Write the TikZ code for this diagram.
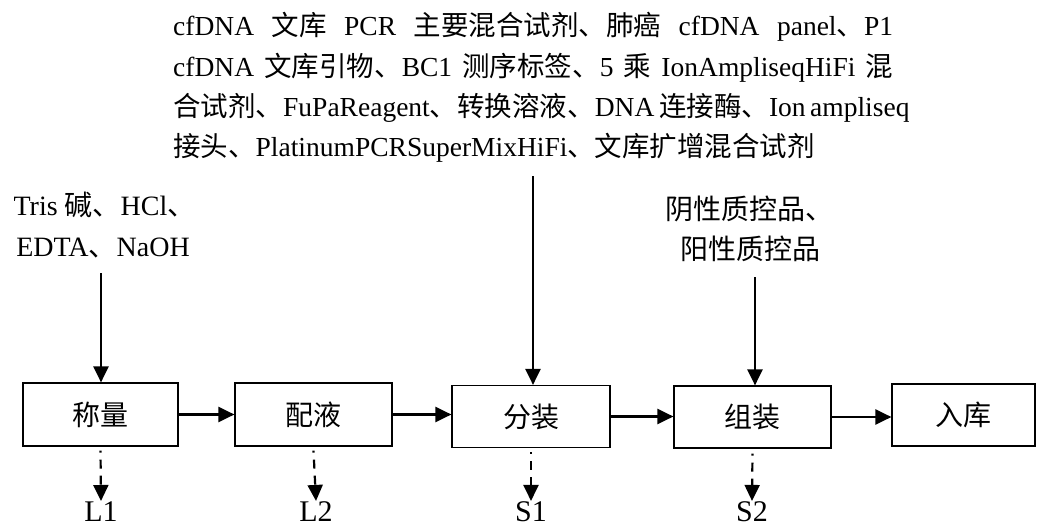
\documentclass[tikz,border=0pt]{standalone}
\usepackage{fontspec}
\setmainfont{Liberation Serif}
\newfontfamily\cjk{Noto Sans CJK SC}
\usetikzlibrary{arrows.meta}
\newcommand\zh[1]{{\cjk #1}}
\begin{document}
\begin{tikzpicture}[x=1pt,y=-1pt,
  box/.style={draw, line width=1.2pt, inner sep=0pt, font=\fontsize{28}{40}\selectfont},
  arr/.style={line width=2.2pt, -{Triangle[length=16pt,width=15pt]}},
  darr/.style={arr, dash pattern=on 9pt off 7pt, dash phase=7pt},
  txt/.style={inner sep=0pt, anchor=base, font=\fontsize{28}{40}\selectfont},
  topline/.style={inner sep=0pt, anchor=base west, font=\fontsize{27.5}{40}\selectfont},
  lab/.style={inner sep=0pt, anchor=base, font=\fontsize{30}{30}\selectfont}]
\useasboundingbox (0,0) rectangle (1037,527);

% top text
\node[topline] (t1) at (173,36) {\makebox[720pt][s]{cfDNA \zh{文库} PCR \zh{主要混合试剂、肺癌} cfDNA panel\zh{、}P1}};
\node[topline] (t2) at (173,76.5) {\makebox[720pt][s]{cfDNA \zh{文库引物、}BC1 \zh{测序标签、}5 \zh{乘} IonAmpliseqHiFi \zh{混}}};
\node[topline] (t3) at (173,117) {\makebox[720pt][s]{\zh{合试剂、}FuPaReagent\zh{、转换溶液、}DNA \zh{连接酶、}Ion ampliseq}};
\node[topline] (t4) at (173,157) {\zh{接头、}PlatinumPCRSuperMixHiFi\zh{、文库扩增混合试剂}};

% left text
\node[txt] (lt1) at (104.5,215) {Tris \zh{碱、}HCl\zh{、}};
\node[txt] (lt2) at (103,256) {EDTA\zh{、}NaOH};

% right text
\node[txt] (rt1) at (749,219) {\zh{阴性质控品、}};
\node[txt] (rt2) at (750,259) {\zh{阳性质控品}};

% boxes
\node[box, minimum width=155pt, minimum height=63pt] (b1) at (100.5,414.5) {\zh{称量}};
\node[box, minimum width=157pt, minimum height=63pt] (b2) at (313.5,414.5) {\zh{配液}};
\node[box, minimum width=158pt, minimum height=62pt] (b3) at (531,416.5) {\zh{分装}};
\node[box, minimum width=157pt, minimum height=62pt] (b4) at (752.5,417) {\zh{组装}};
\node[box, minimum width=143pt, minimum height=62pt] (b5) at (963.5,415) {\zh{入库}};

% labels
\node[lab] (l1) at (101,521) {L1};
\node[lab] (l2) at (316,521) {L2};
\node[lab] (s1) at (531,521) {S1};
\node[lab] (s2) at (752,521) {S2};

% vertical input arrows
\coordinate (ltop) at (101,273);
\coordinate (mtop) at (533,176);
\coordinate (rtop) at (755,277);
\draw[arr] (ltop) -- (ltop |- b1.north);
\draw[arr] (mtop) -- (mtop |- b3.north);
\draw[arr] (rtop) -- (rtop |- b4.north);

% horizontal arrows
\draw[arr] (b1.east) -- (b1.east -| b2.west);
\draw[arr] (b2.east) -- (b2.east -| b3.west);
\draw[arr] (b3.east) -- (b3.east -| b4.west);
\draw[arr] (b4.east) -- (b4.east -| b5.west);

% dashed output arrows
\draw[darr] (b1.south) ++(0,4) -- (l1.north);
\draw[darr] (b2.south) ++(0,4) -- (l2.north);
\draw[darr] (b3.south) ++(0,4) -- (s1.north);
\draw[darr] (b4.south) ++(0,5) -- (s2.north);
\end{tikzpicture}
\end{document}
